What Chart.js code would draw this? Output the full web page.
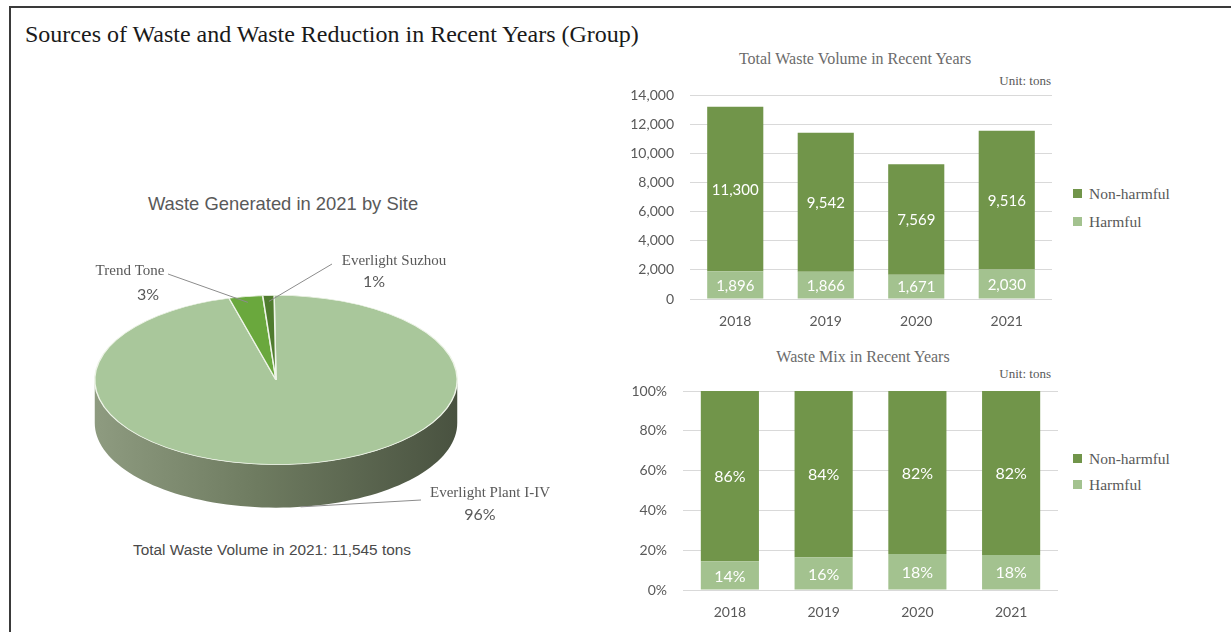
<!DOCTYPE html>
<html>
<head>
<meta charset="utf-8">
<script src="https://cdn.jsdelivr.net/npm/chart.js@4.4.1/dist/chart.umd.min.js"></script>
<style>
  body { margin: 0; width: 1231px; height: 632px; background: #fff; position: relative; overflow: hidden; }
  .frame { position: absolute; left: 9px; top: 6px; right: -5px; bottom: -5px; border-left: 2px solid #3a3a3a; border-top: 2px solid #3a3a3a; }
  .abs { position: absolute; white-space: nowrap; line-height: 1; }
  .serif { font-family: "Liberation Serif", "Times New Roman", serif; }
  .sans { font-family: "Liberation Sans", Arial, sans-serif; }
  .mid { transform: translate(-50%, -50%); }
  .right { transform: translate(-100%, -50%); }
  .left { transform: translate(0, -50%); }
  canvas { position: absolute; }
  .sw { position: absolute; width: 9px; height: 9px; }
</style>
</head>
<body>
<div class="frame"></div>
<div class="abs serif" style="left:25px; top:21px; font-size:24px; line-height:26px; color:#1a1a1a;">Sources of Waste and Waste Reduction in Recent Years (Group)</div>

<div class="abs sans mid" style="left:283px; top:204px; font-size:18.4px; color:#595959;">Waste Generated in 2021 by Site</div>
<div class="abs sans mid" style="left:272px; top:550px; font-size:15.4px; color:#4a4a4a;">Total Waste Volume in 2021: 11,545 tons</div>

<div class="abs serif mid" style="left:855px; top:59px; font-size:16px; color:#6b6b6b;">Total Waste Volume in Recent Years</div>
<div class="abs serif right" style="left:1051px; top:80px; font-size:13px; color:#595959;">Unit: tons</div>
<div class="abs serif mid" style="left:863px; top:357px; font-size:16px; color:#6b6b6b;">Waste Mix in Recent Years</div>
<div class="abs serif right" style="left:1051px; top:373px; font-size:13px; color:#595959;">Unit: tons</div>

<div class="sw" style="left:1073px; top:189px; background:#71954a;"></div>
<div class="abs serif left" style="left:1089px; top:194px; font-size:15.5px; color:#595959;">Non-harmful</div>
<div class="sw" style="left:1073px; top:217px; background:#a3c28f;"></div>
<div class="abs serif left" style="left:1089px; top:222px; font-size:15.5px; color:#595959;">Harmful</div>

<div class="sw" style="left:1073px; top:454px; background:#71954a;"></div>
<div class="abs serif left" style="left:1089px; top:459px; font-size:15.5px; color:#595959;">Non-harmful</div>
<div class="sw" style="left:1073px; top:480px; background:#a3c28f;"></div>
<div class="abs serif left" style="left:1089px; top:485px; font-size:15.5px; color:#595959;">Harmful</div>

<canvas id="pieChart" width="560" height="540" style="left:20px; top:60px;"></canvas>
<canvas id="volChart" width="470" height="260" style="left:600px; top:80px;"></canvas>
<canvas id="mixChart" width="470" height="262" style="left:600px; top:370px;"></canvas>

<script>
// data
const sites = ['Everlight Plant I-IV', 'Trend Tone', 'Everlight Suzhou'];
const siteShare = [96, 3, 1];

const years = ['2018', '2019', '2020', '2021'];
const nonHarmful = [11300, 9542, 7569, 9516];
const harmful = [1896, 1866, 1671, 2030];

const nonHarmfulShare = [85.6, 83.6, 81.9, 82.4];
const harmfulShare = [14.4, 16.4, 18.1, 17.6];

const volTicks = [0, 2000, 4000, 6000, 8000, 10000, 12000, 14000];
const mixTicks = [0, 20, 40, 60, 80, 100];

const DARK = '#71954a';
const LIGHT = '#a3c28f';
const TICK = '#595959';

// labels written in the middle of each stacked segment
function barLabels(fmt, size) {
	return {
		id: 'barLabels',
		afterDatasetsDraw(chart) {
			const ctx = chart.ctx;
			ctx.save();
			ctx.fillStyle = '#ffffff';
			ctx.font = size + 'px Lato';
			ctx.textAlign = 'center';
			ctx.textBaseline = 'middle';
			chart.data.datasets.forEach((ds, i) => {
				chart.getDatasetMeta(i).data.forEach((bar, j) => {
					ctx.fillText(fmt(ds.data[j]), bar.x, (bar.y + bar.base) / 2 + 1);
				});
			});
			ctx.restore();
		}
	};
}

function barChart(id, series, ticks, yWidth, xHeight, padding, fmtTick, fmtLabel, labelSize) {
	return new Chart(document.getElementById(id), {
		type: 'bar',
		data: {
			labels: years,
			datasets: [
				{ label: 'Harmful', data: series[1], backgroundColor: LIGHT },
				{ label: 'Non-harmful', data: series[0], backgroundColor: DARK }
			]
		},
		options: {
			responsive: false,
			animation: false,
			events: [],
			layout: { padding: padding },
			datasets: { bar: { categoryPercentage: 1, barPercentage: 0.62 } },
			plugins: { legend: { display: false }, tooltip: { enabled: false } },
			scales: {
				x: {
					stacked: true,
					grid: { display: false },
					border: { display: false },
					ticks: { color: TICK, font: { family: 'Lato', size: 14 }, padding: 6 },
					afterFit: s => { s.height = xHeight; }
				},
				y: {
					stacked: true,
					min: ticks[0],
					max: ticks[ticks.length - 1],
					afterBuildTicks: s => { s.ticks = ticks.map(v => ({ value: v })); },
					grid: { color: '#d9d9d9', drawTicks: false },
					border: { display: false },
					ticks: { color: TICK, font: { family: 'Lato', size: 14 }, padding: 16, callback: fmtTick },
					afterFit: s => { s.width = yWidth; s.paddingTop = 0; s.paddingBottom = 0; }
				}
			}
		},
		plugins: [barLabels(fmtLabel, labelSize)]
	});
}

barChart('volChart', [nonHarmful, harmful], volTicks, 90, 41, { top: 15, right: 18, left: 0, bottom: 0 },
	v => v.toLocaleString('en-US'), v => v.toLocaleString('en-US'), 15);
barChart('mixChart', [nonHarmfulShare, harmfulShare], mixTicks, 83, 42, { top: 21, right: 12, left: 0, bottom: 0 },
	v => v + '%', v => Math.round(v) + '%', 16);

// pie drawn as a tilted disc: side wall first, then the squashed top face
const TILT = 0.467;
const DEPTH = 43;

const pie3d = {
	id: 'pie3d',
	beforeDatasetsDraw(chart) {
		const meta = chart.getDatasetMeta(0);
		const first = meta.data[0];
		const cx = first.x, cy = first.y, r = first.outerRadius;
		const ctx = chart.ctx;
		ctx.save();
		const grad = ctx.createLinearGradient(cx - r, 0, cx + r, 0);
		grad.addColorStop(0, '#8e9b80');
		grad.addColorStop(0.45, '#6e7b60');
		grad.addColorStop(1, '#495240');
		meta.data.forEach(arc => {
			[0, Math.PI * 2, -Math.PI * 2].forEach(off => {
				const lo = Math.max(arc.startAngle, off), hi = Math.min(arc.endAngle, off + Math.PI);
				if (lo >= hi) return;
				ctx.beginPath();
				const n = 80;
				for (let i = 0; i <= n; i++) {
					const t = lo + (hi - lo) * i / n;
					ctx.lineTo(cx + r * Math.cos(t), cy + TILT * r * Math.sin(t));
				}
				for (let i = n; i >= 0; i--) {
					const t = lo + (hi - lo) * i / n;
					ctx.lineTo(cx + r * Math.cos(t), cy + TILT * r * Math.sin(t) + DEPTH);
				}
				ctx.closePath();
				ctx.fillStyle = grad;
				ctx.fill();
			});
		});
		ctx.translate(cx, cy);
		ctx.scale(1, TILT);
		ctx.translate(-cx, -cy);
	},
	afterDatasetsDraw(chart) {
		chart.ctx.restore();
	}
};

// callouts: text places are layout, the line end comes from the slice itself
const calloutPlaces = [
	{ nx: 470, ny: 433, px: 460, py: 455, lx: 401, ly: 440 },
	{ nx: 110, ny: 211, px: 128, py: 235, lx: 148, ly: 214 },
	{ nx: 374, ny: 201, px: 354, py: 222, lx: 312, ly: 204 }
];

const pieCallouts = {
	id: 'pieCallouts',
	afterDraw(chart) {
		const meta = chart.getDatasetMeta(0);
		const ctx = chart.ctx;
		ctx.save();
		meta.data.forEach((arc, i) => {
			const p = calloutPlaces[i];
			const mid = (arc.startAngle + arc.endAngle) / 2;
			const front = Math.sin(mid) > 0.3;
			const rr = front ? arc.outerRadius : arc.outerRadius * 0.93;
			const ax = arc.x + rr * Math.cos(mid);
			const ay = arc.y + TILT * rr * Math.sin(mid) + (front ? DEPTH : 0);
			ctx.strokeStyle = '#8c8c8c';
			ctx.lineWidth = 1;
			ctx.beginPath();
			ctx.moveTo(p.lx, p.ly);
			ctx.lineTo(ax, ay);
			ctx.stroke();
			ctx.fillStyle = '#595959';
			ctx.textAlign = 'center';
			ctx.textBaseline = 'middle';
			ctx.font = '15px "Liberation Serif"';
			ctx.fillText(sites[i], p.nx, p.ny);
			ctx.font = '16px Lato';
			ctx.fillText(siteShare[i] + '%', p.px, p.py);
		});
		ctx.restore();
	}
};

new Chart(document.getElementById('pieChart'), {
	type: 'pie',
	data: {
		labels: sites,
		datasets: [{
			data: siteShare,
			backgroundColor: ['#a9c79b', '#6aa83d', '#4f7b2e'],
			borderColor: '#eef4e8',
			borderWidth: 1.5
		}]
	},
	options: {
		responsive: false,
		animation: false,
		events: [],
		rotation: -0.6,
		layout: { padding: { left: 74, right: 122, top: 138, bottom: 38 } },
		plugins: { legend: { display: false }, tooltip: { enabled: false } }
	},
	plugins: [pie3d, pieCallouts]
});
</script>
</body>
</html>
